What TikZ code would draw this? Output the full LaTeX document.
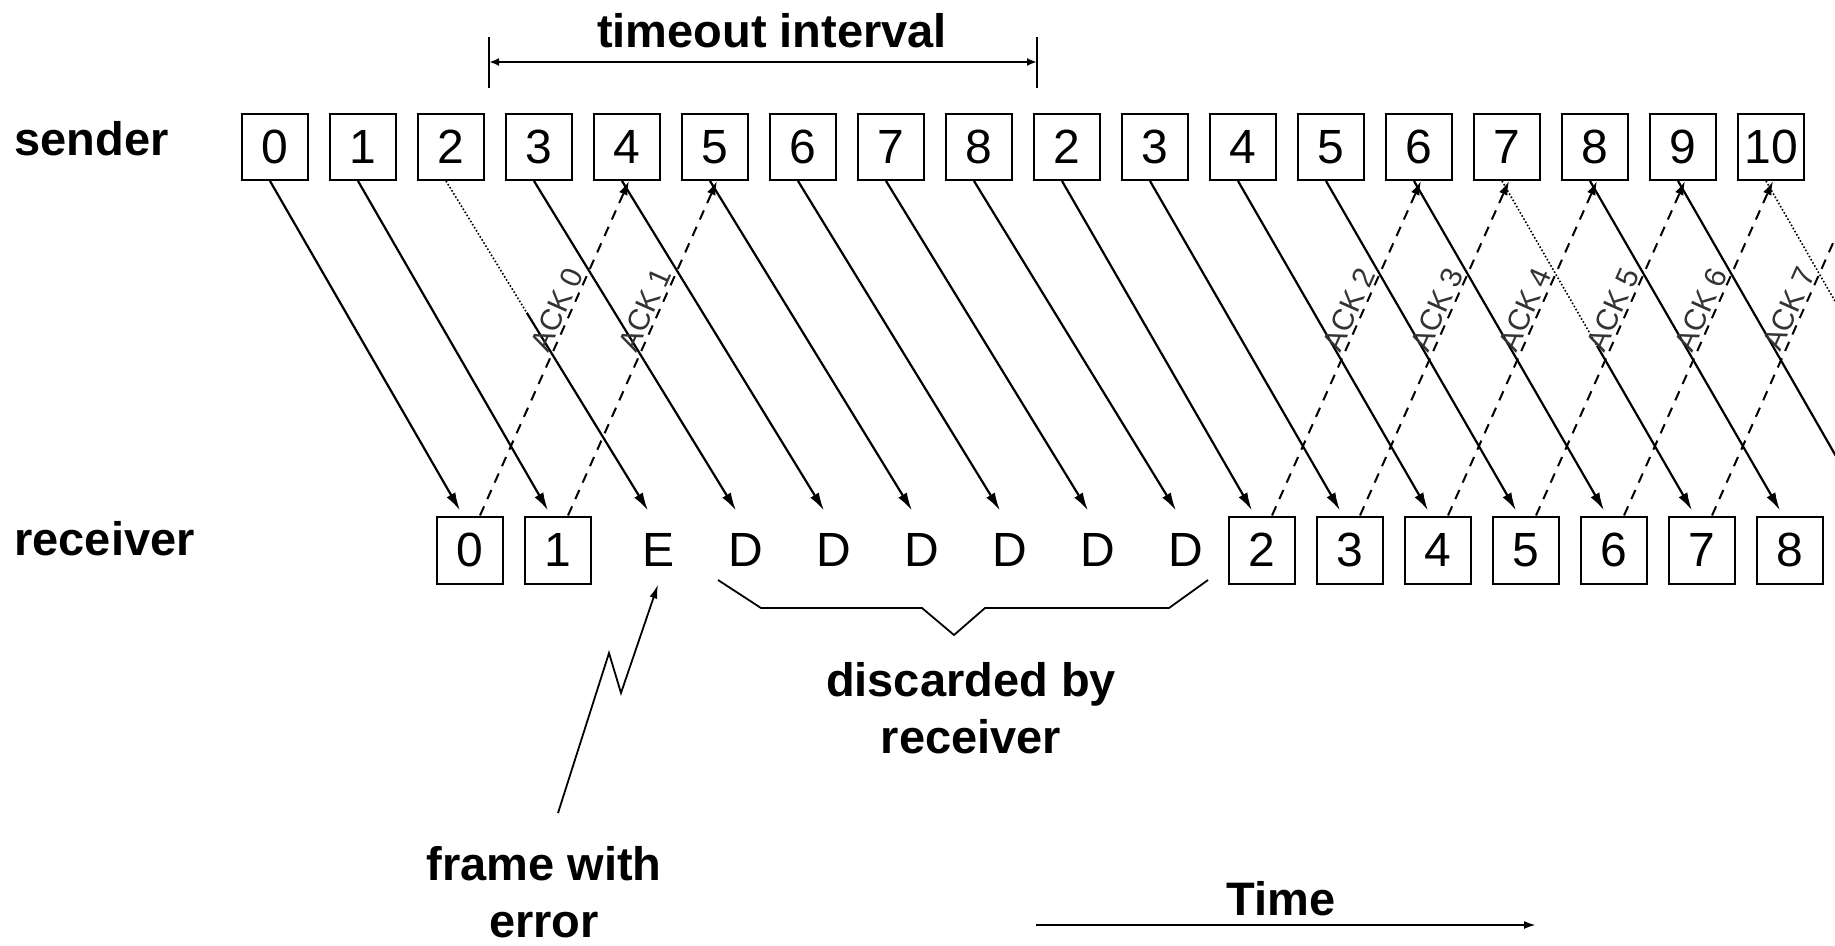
\documentclass[tikz,border=0pt]{standalone}
\usepackage{fontspec}
\setmainfont{Liberation Sans}
\usetikzlibrary{arrows.meta,calc}
\tikzset{
  lbl/.style={font=\bfseries\fontsize{23.5}{28.5}\selectfont, inner sep=0pt},
  sbox/.style={draw, line width=1pt, minimum width=33pt, minimum height=33pt, inner sep=0pt, font=\fontsize{24}{24}\selectfont},
  rbox/.style={sbox, minimum height=33.5pt},
  rlet/.style={rbox, draw=none, xshift=6pt},
  fline/.style={line width=1.1pt, -{Latex[length=9pt,width=5pt]}},
  lost/.style={line width=.8pt, densely dotted},
  ack/.style={line width=1pt, dash pattern=on 5pt off 4pt, -{Latex[length=7pt,width=4.5pt]}},
  acklbl/.style={sloped, above, pos=.6, inner sep=1pt, text=black!80, font=\fontsize{15}{15}\selectfont},
  tick/.style={line width=1pt},
  dimline/.style={line width=1.1pt, {Latex[length=5pt,width=4pt]}-{Latex[length=5pt,width=4pt]}},
}
\begin{document}
\begin{tikzpicture}[x=.5pt,y=-.5pt]
    \useasboundingbox (0,0) rectangle (1835,946);
    \clip (0,0) rectangle (1835,946);
  %--- Rows
    \node[lbl, anchor=base west] (sndlbl) at (14,156) {sender};
    \node[lbl, anchor=base west] (rcvlbl) at (14,555) {receiver};
    \foreach \f [count=\k from 0] in {0,1,2,3,4,5,6,7,8,2,3,4,5,6,7,8,9,10}
      \node[sbox] (s\k) at ({275+88*\k},147) {\f};
    \foreach \k in {0,1}
      \node[rbox] (r\k) at ({470+88*\k},550) {\k};
    \node[rlet] (r2) at ({470+88*2},550) {E};
    \foreach \k in {3,...,8}
      \node[rlet] (r\k) at ({470+88*\k},550) {D};
    \foreach \f [count=\k from 9] in {2,...,8}
      \node[rbox] (r\k) at ({470+88*\k},550) {\f};
    \coordinate (r16) at ({470+88*16-10},512);
    \coordinate (r17) at ({470+88*17-10},512);
    \coordinate (s18) at ({275+88*18+2},180);
  %--- Frames
    \foreach \k in {0,1,3,4,5,6,7,8,9,10,11,12,13,15}
      \draw[fline] ([xshift=-2.5pt]s\k.south) -- ([xshift=-5pt,yshift=2.5pt]r\k.north);
    \foreach \k/\p in {2/.4,14/.5}{
      \path ([xshift=-2.5pt]s\k.south) coordinate (a\k)
            ([xshift=-5pt,yshift=2.5pt]r\k.north) coordinate (b\k);
      \draw[lost] (a\k) -- ($(a\k)!\p!(b\k)$) coordinate (m\k);
      \draw[fline] (m\k) -- (b\k);
    }
    \draw[fline] ([xshift=-2.5pt]s16.south) -- (r16);
    \draw[lost] ([xshift=-2.5pt]s17.south) -- (r17);
  %--- Acks
    \foreach \k/\j/\n in {0/4/0,1/5/1,9/13/2,10/14/3,11/15/4,12/16/5,13/17/6}
      \draw[ack] ([xshift=5pt]r\k.north) -- node[acklbl] (ack\n) {ACK \n} ([xshift=1pt]s\j.south);
    \draw[ack] ([xshift=5pt]r14.north) -- node[acklbl] (ack7) {ACK 7} (s18);
  %--- Timeout
    \coordinate (tol) at (489,62);
    \coordinate (tor) at (1037,62);
    \draw[tick] ([yshift=12.5pt]tol) -- ([yshift=-13pt]tol);
    \draw[tick] ([yshift=12.5pt]tor) -- ([yshift=-13pt]tor);
    \draw[dimline] (tol) -- (tor);
    \node[lbl, anchor=base] (tmo) at (772,48) {timeout interval};
  %--- Error
    \coordinate (err) at (558,813);
    \draw[line width=.9pt, -{Latex[length=7pt,width=4pt]}] (err) -- ++(51,-160) -- ++(12,40) -- (r2.south);
    \node[lbl, anchor=north, align=center] (errlbl) at (544,846) {frame with\\error};
  %--- Discarded
    \draw[line width=.9pt] (718,580) -- ++(43,28) -- ++(161,0) -- ++(32,27) -- ++(31,-27) -- ++(184,0) -- ++(39,-28);
    \node[lbl, anchor=north, align=center] (dislbl) at (971,662) {discarded by\\receiver};
  %--- Time
    \coordinate (tm0) at (1036,925);
    \coordinate (tm1) at (1536,925);
    \draw[line width=1.1pt, -{Latex[length=6pt,width=4pt]}] (tm0) -- (tm1);
    \node[lbl, anchor=base] (time) at (1281,915) {Time};
\end{tikzpicture}
\end{document}
